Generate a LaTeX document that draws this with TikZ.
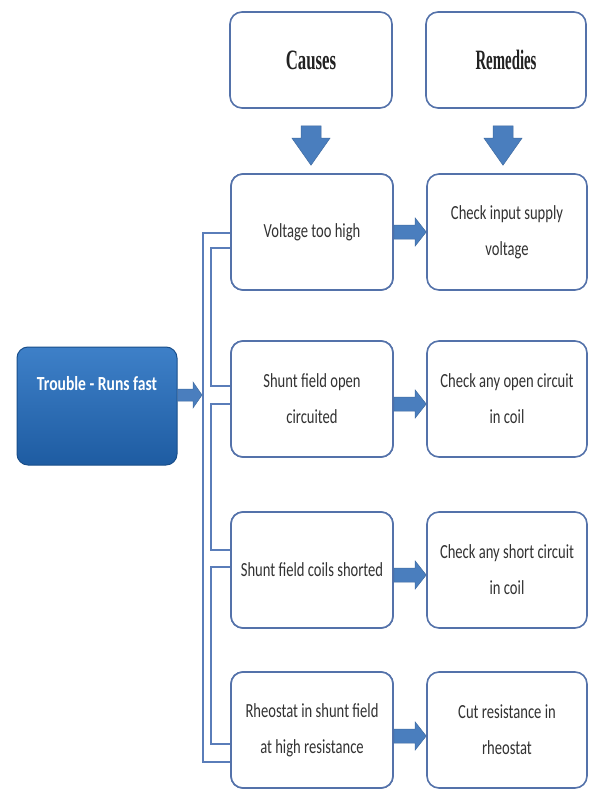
\documentclass[tikz,border=0pt]{standalone}
\usepackage{fontspec}
\setmainfont{Carlito}[FakeStretch=0.73]
\newfontfamily\titlefont{Liberation Serif}
\newfontfamily\trfont{Carlito}[FakeStretch=0.78]
\usetikzlibrary{calc}
\definecolor{boxline}{RGB}{84,114,170}
\definecolor{arrowblue}{RGB}{74,126,190}
\definecolor{conline}{RGB}{90,125,185}
\definecolor{txt}{RGB}{50,50,50}
\definecolor{trtop}{RGB}{62,128,200}
\definecolor{trbot}{RGB}{30,92,162}
\begin{document}
\begin{tikzpicture}[x=1pt,y=-1pt,
  rbox/.style={draw=boxline, line width=1.6pt, rounded corners=12pt, fill=white,
    minimum height=116pt, inner sep=2pt, align=center, text=txt,
    font=\fontsize{20}{36}\selectfont},
  cbox/.style={rbox, minimum width=162pt},
  mbox/.style={rbox, minimum width=160pt},
  ttl/.style={draw=boxline, line width=1.6pt, rounded corners=12pt, fill=white,
    minimum height=96pt, text={rgb,255:red,34;green,34;blue,34},
    font=\titlefont\bfseries\fontsize{28}{30}\selectfont},
  trbox/.style={draw=trbot!85!black, line width=1pt, rounded corners=11pt,
    top color=trtop, bottom color=trbot, minimum width=160pt, minimum height=118pt,
    inner sep=0pt, text=white, text height=14pt, text depth=46pt,
    font=\trfont\bfseries\fontsize{20}{24}\selectfont},
  hollow/.style={draw=conline, line width=1.3pt, fill=white, line join=miter},
  blockh/.style n args={3}{fill=arrowblue, draw=arrowblue!85!black, line width=0.5pt,
    to path={let \p1=(\tikztostart), \p2=(\tikztotarget) in
      (\x1,{\y1+#1}) -- ({\x2-#3},{\y1+#1}) -- ({\x2-#3},{\y1+#2}) -- (\x2,\y1)
      -- ({\x2-#3},{\y1-#2}) -- ({\x2-#3},{\y1-#1}) -- (\x1,{\y1-#1}) -- cycle}},
  blockv/.style={fill=arrowblue, draw=arrowblue!85!black, line width=0.5pt,
    to path={let \p1=(\tikztostart), \p2=(\tikztotarget) in
      ({\x1-10pt},\y1) -- ({\x1+10pt},\y1) -- ({\x1+10pt},{\y2+27pt})
      -- ({\x1+19pt},{\y2+27pt}) -- (\x1,\y2) -- ({\x1-19pt},{\y2+27pt})
      -- ({\x1-10pt},{\y2+27pt}) -- cycle}}
]
\useasboundingbox (0,0) rectangle (589,789);
\fill[white] (0,0) rectangle (589,789);

% headers
\node[ttl, minimum width=162pt] (causes) at (311,60) {\scalebox{0.6}[1]{Causes}};
\node[ttl, minimum width=160pt] (remedies) at (506,60) {\scalebox{0.53}[1]{Remedies}};

% junction coordinates of the hollow connector
\coordinate (k1) at (207,240);
\coordinate (k2) at (207,395);
\coordinate (k3) at (207,558);
\coordinate (k4) at (207,753);

% cause / remedy boxes (positions first, so the connector can use them)
\path
  node[cbox] (c1) at (312,232) {Voltage too high}
  node[mbox] (r1) at (507,232) {Check input supply\\voltage}
  node[cbox] (c2) at (312,399) {Shunt field open\\circuited}
  node[mbox] (r2) at (507,399) {Check any open circuit\\in coil}
  node[cbox] (c3) at (312,570) {Shunt field coils  shorted}
  node[mbox] (r3) at (507,570) {Check any short circuit\\in coil}
  node[cbox] (c4) at (312,730) {Rheostat in shunt field\\at high resistance}
  node[mbox] (r4) at (507,730) {Cut resistance in\\rheostat};

% hollow elbow connector from the trouble box to each cause
\draw[hollow]
  ($(k1)+(-4,-7)$) -- ($(c1.west|-k1)+(0,-7)$) -- ($(c1.west|-k1)+(0,8)$)
  -- ($(k1)+(4,8)$) -- ($(k2)+(4,-9)$) -- ($(c2.west|-k2)+(0,-9)$)
  -- ($(c2.west|-k2)+(0,9)$) -- ($(k2)+(4,9)$) -- ($(k3)+(4,-8)$)
  -- ($(c3.west|-k3)+(0,-8)$) -- ($(c3.west|-k3)+(0,9)$) -- ($(k3)+(4,9)$)
  -- ($(k4)+(4,-9)$) -- ($(c4.west|-k4)+(0,-9)$) -- ($(c4.west|-k4)+(0,9)$)
  -- ($(k4)+(-4,9)$) -- cycle;

% redraw the cause boxes on top of the connector ends
\node[cbox] at (c1) {Voltage too high};
\node[cbox] at (c2) {Shunt field open\\circuited};
\node[cbox] at (c3) {Shunt field coils  shorted};
\node[cbox] at (c4) {Rheostat in shunt field\\at high resistance};

% trouble box
\node[trbox] (tb) at (97,406) {Trouble - Runs fast};

% block arrows
\draw[blockh={6pt}{13pt}{9pt}] ($(tb.east)+(0,-11)$) to ($(k2)+(-5,0)$);
\draw[blockv] ($(causes.south)+(0,17)$) to ($(c1.north)+(0,-8)$);
\draw[blockv] ($(remedies.south)+(-3,17)$) to ($(r1.north)+(-4,-8)$);
\draw[blockh={7pt}{14pt}{11pt}] (c1.east) to (r1.west);
\draw[blockh={7pt}{14pt}{11pt}] ($(c2.east)+(0,5)$) to ($(r2.west)+(0,5)$);
\draw[blockh={7pt}{14pt}{11pt}] ($(c3.east)+(0,5)$) to ($(r3.west)+(0,5)$);
\draw[blockh={7pt}{14pt}{11pt}] ($(c4.east)+(0,6)$) to ($(r4.west)+(0,6)$);
\end{tikzpicture}
\end{document}
